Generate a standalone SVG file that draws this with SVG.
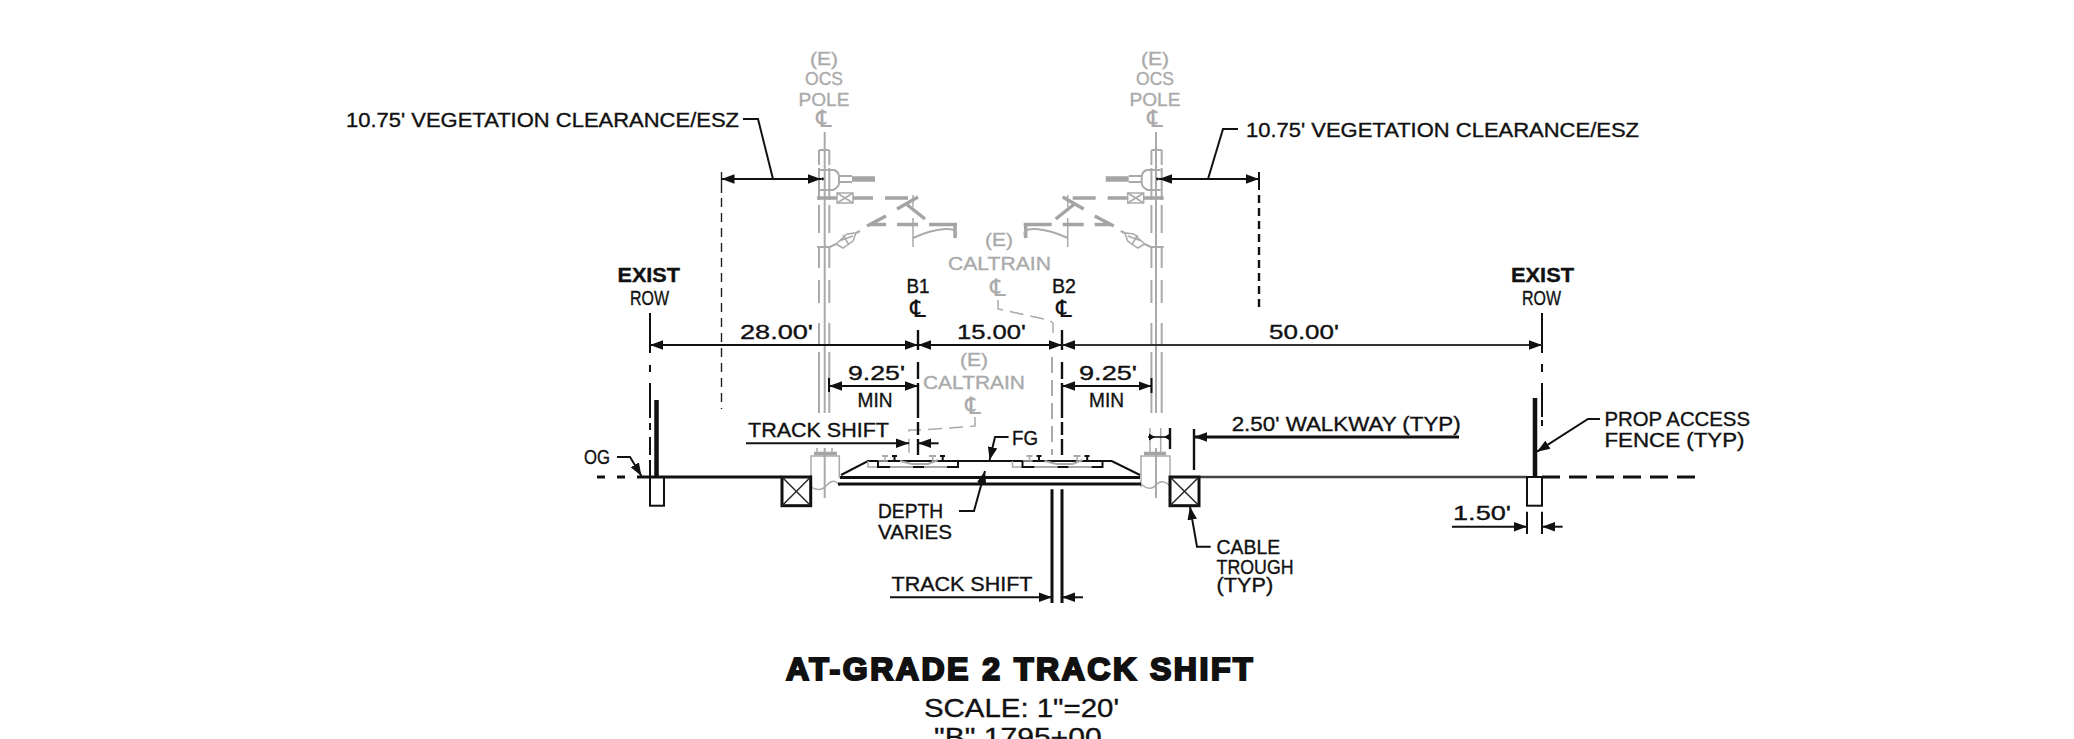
<svg xmlns="http://www.w3.org/2000/svg" xmlns:xlink="http://www.w3.org/1999/xlink" width="2074" height="739" viewBox="0 0 2074 739">
<defs>
<style>
text{font-family:"Liberation Sans",Arial,sans-serif;font-size:20px;fill:#111;stroke:#111;stroke-width:.35}
.g{fill:#aaa;stroke:#aaa;font-size:18.5px}
.m{text-anchor:middle}
.ln{fill:none;stroke:#111;stroke-width:2}
.th{fill:none;stroke:#111;stroke-width:3}
.thin{fill:none;stroke:#222;stroke-width:1.4}
.gl{fill:none;stroke:#aaa;stroke-width:2}
.gt{fill:none;stroke:#aaa;stroke-width:1.5}
.gb{fill:none;stroke:#a4a4a4;stroke-width:3.5}
.ar{marker-end:url(#a)}
.cl{font-family:"DejaVu Sans",sans-serif;font-size:24px;stroke-width:.2}
</style>
<marker id="a" markerUnits="userSpaceOnUse" markerWidth="15" markerHeight="11" refX="13" refY="5.5" orient="auto"><path d="M0 .7L13 5.5L0 10.3Z" fill="#111"/></marker>
<g id="ocs">
<path class="gl" d="M824.7 132V413M824.7 448V498"/>
<path class="gl" d="M819 150V165M819 168V200M819 205V233M819 247V268M819 280V303M819 323V345M819 352V413M829.3 150V165M829.3 168V200M829.3 205V233M829.3 247V268M829.3 280V303M829.3 323V345M829.3 352V413M819 150H829.3"/>
<path class="gl" d="M820 170H834Q839 172 839 177V183Q839 187 833 190H820M839 176H852M839 182H852"/>
<path d="M852 179H875" stroke="#a4a4a4" stroke-width="5.5" fill="none"/>
<path class="gb" d="M817 198H837M853 198H873M885 198H908"/>
<rect class="gt" x="837" y="193" width="16" height="10"/>
<path class="gt" d="M837 193L853 203M853 193L837 203M913 195V207M913 218V247"/>
<path class="gb" d="M897 209L918 197M905 203L925 219M867 226L886 216M870 224.5H886M897 224.5H918M929 224.5H957"/>
<path class="gb" d="M955 224V238"/>
<path class="gl" d="M913 238Q930 230 945 229T955 238"/>
<path class="gl" d="M817 247H830L836 244"/>
<path class="gt" d="M836 244L847 234L856 233L853 241L843 248ZM839 241L853 236M843 235L849 245"/>
<path class="gl" d="M856 233L860 231"/>
</g>
<g id="track">
<path class="gt" d="M868 461V467H878M885 457V461M932.7 457V461M888 461H878"/>
<path class="gl" d="M882 456H888M929 456H936M900 461L912 464H928L938 460M890 467H913M924 467H947"/>
<path d="M892 456H897M894.5 456V461M940 456H945M942.7 456V461" stroke="#111" stroke-width="2" fill="none"/>
<path class="ln" d="M878 461V467H890M913 467H924M947 467H958V461"/>
</g>
</defs>

<g id="ocs-left"><use xlink:href="#ocs" href="#ocs"/></g>
<g id="ocs-right"><use xlink:href="#ocs" href="#ocs" transform="translate(1980.7 0) scale(-1 1)"/></g>

<g id="gray-labels">
<text class="g m" x="824" y="65" textLength="28" lengthAdjust="spacingAndGlyphs">(E)</text>
<text class="g m" x="824" y="85" textLength="38" lengthAdjust="spacingAndGlyphs">OCS</text>
<text class="g m" x="824" y="106" textLength="51" lengthAdjust="spacingAndGlyphs">POLE</text>
<text class="g m cl" x="824" y="127">℄</text>
<text class="g m" x="1155" y="65" textLength="28" lengthAdjust="spacingAndGlyphs">(E)</text>
<text class="g m" x="1155" y="85" textLength="38" lengthAdjust="spacingAndGlyphs">OCS</text>
<text class="g m" x="1155" y="106" textLength="51" lengthAdjust="spacingAndGlyphs">POLE</text>
<text class="g m cl" x="1155" y="127">℄</text>
<text class="g m" x="999" y="246" textLength="28" lengthAdjust="spacingAndGlyphs">(E)</text>
<text class="g" x="948" y="270" textLength="103" lengthAdjust="spacingAndGlyphs">CALTRAIN</text>
<text class="g m cl" x="998" y="296">℄</text>
<text class="g m" x="974" y="366" textLength="28" lengthAdjust="spacingAndGlyphs">(E)</text>
<text class="g" x="923" y="389" textLength="102" lengthAdjust="spacingAndGlyphs">CALTRAIN</text>
<text class="g m cl" x="973" y="414">℄</text>
<path class="gt" stroke-dasharray="14 7" d="M998 300V309L1049 320L1053 323V333"/>
<path class="gl" stroke-dasharray="16 7" d="M1052 357V455"/>
<path class="gt" stroke-dasharray="14 7" d="M975 417V426L922 430H909V453"/>
</g>

<g id="foundations">
<path class="gt" d="M811 487V456H839.3V478M811 487Q820 493 827 485T840 486"/>
<path class="gb" d="M814 453.5H837"/>
<path class="gt" d="M817 448V453M832 448V453"/>
<path class="gt" d="M1141 487V456H1170V500M1141 484Q1150 492 1156 485T1170 486"/>
<path class="gb" d="M1144 453.5H1166"/>
<path class="gt" d="M1150 428V453M1160.7 428V453"/>
</g>

<g id="section">
<path class="th" d="M640 477H781M810 477H811"/>
<path class="th" stroke-dasharray="8 12" d="M597 477H640"/>
<path d="M1199 477H1527" stroke="#444" stroke-width="2.6" fill="none"/>
<path class="th" stroke-dasharray="18 9" d="M1542 477H1697"/>
<path class="ln" d="M841 475L868 461H1111.7L1140 475"/>
<path class="th" d="M840 477.5H1140M838 484H1141"/>
<rect class="ln" x="650" y="477" width="14" height="28.7"/>
<rect class="ln" x="1527" y="477" width="15" height="28.7"/>
<path d="M656.5 400V477M1535 398V477" stroke="#111" stroke-width="4.5" fill="none"/>
<rect class="th" x="782" y="477" width="28.7" height="28.7"/>
<path class="thin" d="M782 477L810.7 505.7M810.7 477L782 505.7"/>
<rect class="th" x="1170" y="477" width="29" height="28.7"/>
<path class="thin" d="M1170 477L1199 505.7M1199 477L1170 505.7"/>
<use xlink:href="#track" href="#track"/>
<use xlink:href="#track" href="#track" transform="translate(144.5 0)"/>
</g>

<g id="connectors">
<path class="ln" d="M650 313V353M650 365V372M650 383V418M650 423V430M650 437V455M650 460V477"/>
<path class="ln" d="M1542 313V353M1542 364V372M1542 383V417M1542 420V426"/>
<path class="th" style="stroke-width:2.4" d="M918 330V350M918 362V379M918 383V418M918 422V435M918 439V455M1062 330V350M1062 362V379M1062 383V418M1062 422V435M1062 439V455"/>
<path class="ln ar" d="M784 345H650"/><path class="ln ar" d="M784 345H918"/>
<path class="ln ar" d="M990 345H918"/><path class="ln ar" d="M990 345H1062"/>
<path class="ar" d="M1300 345H1062" stroke="#333" stroke-width="2" fill="none"/>
<path class="ar" d="M1300 345H1542" stroke="#333" stroke-width="2" fill="none"/>
<path class="thin" d="M721.5 172V193"/>
<path class="thin" stroke-dasharray="9 6" d="M721.5 198V409"/>
<path class="ln" d="M1259 172V190"/>
<path class="ln" stroke-dasharray="8 5" style="stroke-width:2.4" d="M1259 195V312"/>
<path class="ln ar" d="M773 179H721.5"/><path class="ln ar" d="M773 179H821"/>
<path class="ln" d="M743 119H758L773 179"/>
<circle cx="822.5" cy="179" r="1.4" fill="#111"/>
<path class="ln ar" d="M1208 179H1159"/><path class="ln ar" d="M1208 179H1259"/>
<path class="ln" d="M1238 129H1223L1208 179"/>
<circle cx="1157.5" cy="179" r="1.4" fill="#111"/>
<path class="ln" d="M829 378V392"/>
<path class="ln ar" d="M870 386H829"/><path class="ln ar" d="M870 386H918"/>
<path class="ln ar" d="M1100 386H1062"/><path class="ln ar" d="M1100 386H1151.5"/>
<path class="ln" d="M1151.5 378V393"/>
<path class="ln ar" d="M746 443.3H909"/><path class="ln ar" d="M938.6 443.3H918"/>
<path class="th" d="M1052 489.3V603M1062 489.3V603"/>
<path class="ln ar" d="M890 597.3H1052"/><path class="ln ar" d="M1083 597.3H1062"/>
<path class="ln ar" d="M1008.6 437H995L989.6 460"/>
<path class="ln ar" d="M959 511H974L985 471"/>
<path class="ln ar" d="M617 457H630L641.5 476"/>
<path class="th" style="stroke-width:2.4" d="M1170 428V449M1194 429V470"/>
<path d="M1148 437H1170" stroke="#111" stroke-width="1.6" fill="none"/>
<path d="M1155 437L1149 433.5V440.5ZM1164 437L1170 433.5V440.5Z" fill="#111"/>
<path class="th ar" d="M1459 437H1194"/>
<path class="ln ar" d="M1210.7 546.7H1197L1190 506.7"/>
<path class="ln ar" d="M1452 526.7H1527"/><path class="ln ar" d="M1562.6 526.7H1542"/>
<path class="ln" d="M1527 511.7V534M1542 511.7V534"/>
<path class="ln ar" d="M1600 419H1588L1537 451.7"/>
</g>

<g id="labels">
<text x="346" y="127" textLength="393" lengthAdjust="spacingAndGlyphs">10.75' VEGETATION CLEARANCE/ESZ</text>
<text x="1246" y="137" textLength="393" lengthAdjust="spacingAndGlyphs">10.75' VEGETATION CLEARANCE/ESZ</text>
<text x="617.5" y="281.5" textLength="62.5" lengthAdjust="spacingAndGlyphs" font-weight="bold">EXIST</text>
<text x="630" y="305" textLength="39" lengthAdjust="spacingAndGlyphs">ROW</text>
<text x="1511" y="281.5" textLength="63" lengthAdjust="spacingAndGlyphs" font-weight="bold">EXIST</text>
<text x="1522" y="305" textLength="39" lengthAdjust="spacingAndGlyphs">ROW</text>
<text x="906.5" y="292.7" textLength="23" lengthAdjust="spacingAndGlyphs">B1</text>
<text class="m cl" x="918" y="317">℄</text>
<text x="1052" y="292.7" textLength="24" lengthAdjust="spacingAndGlyphs">B2</text>
<text class="m cl" x="1064" y="317">℄</text>
<text x="740" y="339" textLength="73" lengthAdjust="spacingAndGlyphs">28.00'</text>
<text x="957" y="339" textLength="69" lengthAdjust="spacingAndGlyphs">15.00'</text>
<text x="1269" y="339" textLength="70" lengthAdjust="spacingAndGlyphs">50.00'</text>
<text x="848" y="380" textLength="57" lengthAdjust="spacingAndGlyphs">9.25'</text>
<text x="857.5" y="406.7" textLength="35" lengthAdjust="spacingAndGlyphs">MIN</text>
<text x="1079" y="380" textLength="58" lengthAdjust="spacingAndGlyphs">9.25'</text>
<text x="1089" y="406.7" textLength="35" lengthAdjust="spacingAndGlyphs">MIN</text>
<text x="748" y="436.7" textLength="141" lengthAdjust="spacingAndGlyphs">TRACK SHIFT</text>
<text x="891.5" y="590.7" textLength="141" lengthAdjust="spacingAndGlyphs">TRACK SHIFT</text>
<text x="1012" y="445" textLength="26" lengthAdjust="spacingAndGlyphs">FG</text>
<text x="878" y="518" textLength="65" lengthAdjust="spacingAndGlyphs">DEPTH</text>
<text x="878" y="539" textLength="74" lengthAdjust="spacingAndGlyphs">VARIES</text>
<text x="584" y="464" textLength="26" lengthAdjust="spacingAndGlyphs">OG</text>
<text x="1231.7" y="430.7" textLength="229" lengthAdjust="spacingAndGlyphs">2.50' WALKWAY (TYP)</text>
<text x="1216.6" y="554" textLength="63.5" lengthAdjust="spacingAndGlyphs">CABLE</text>
<text x="1216.6" y="574.3" textLength="77" lengthAdjust="spacingAndGlyphs">TROUGH</text>
<text x="1216.6" y="592" textLength="56.5" lengthAdjust="spacingAndGlyphs">(TYP)</text>
<text x="1453" y="520" textLength="58" lengthAdjust="spacingAndGlyphs">1.50'</text>
<text x="1604.5" y="426" textLength="145.5" lengthAdjust="spacingAndGlyphs">PROP ACCESS</text>
<text x="1604.5" y="446.7" textLength="140" lengthAdjust="spacingAndGlyphs">FENCE (TYP)</text>
<text x="786" y="680" textLength="466.5" font-weight="bold" style="font-size:32px;stroke-width:2.2">AT-GRADE 2 TRACK SHIFT</text>
<text x="924" y="716.7" textLength="195" lengthAdjust="spacingAndGlyphs" style="font-size:26px">SCALE: 1"=20'</text>
<text x="934" y="746" textLength="167.6" lengthAdjust="spacingAndGlyphs" style="font-size:26px">"B" 1795+00</text>
</g>
</svg>
